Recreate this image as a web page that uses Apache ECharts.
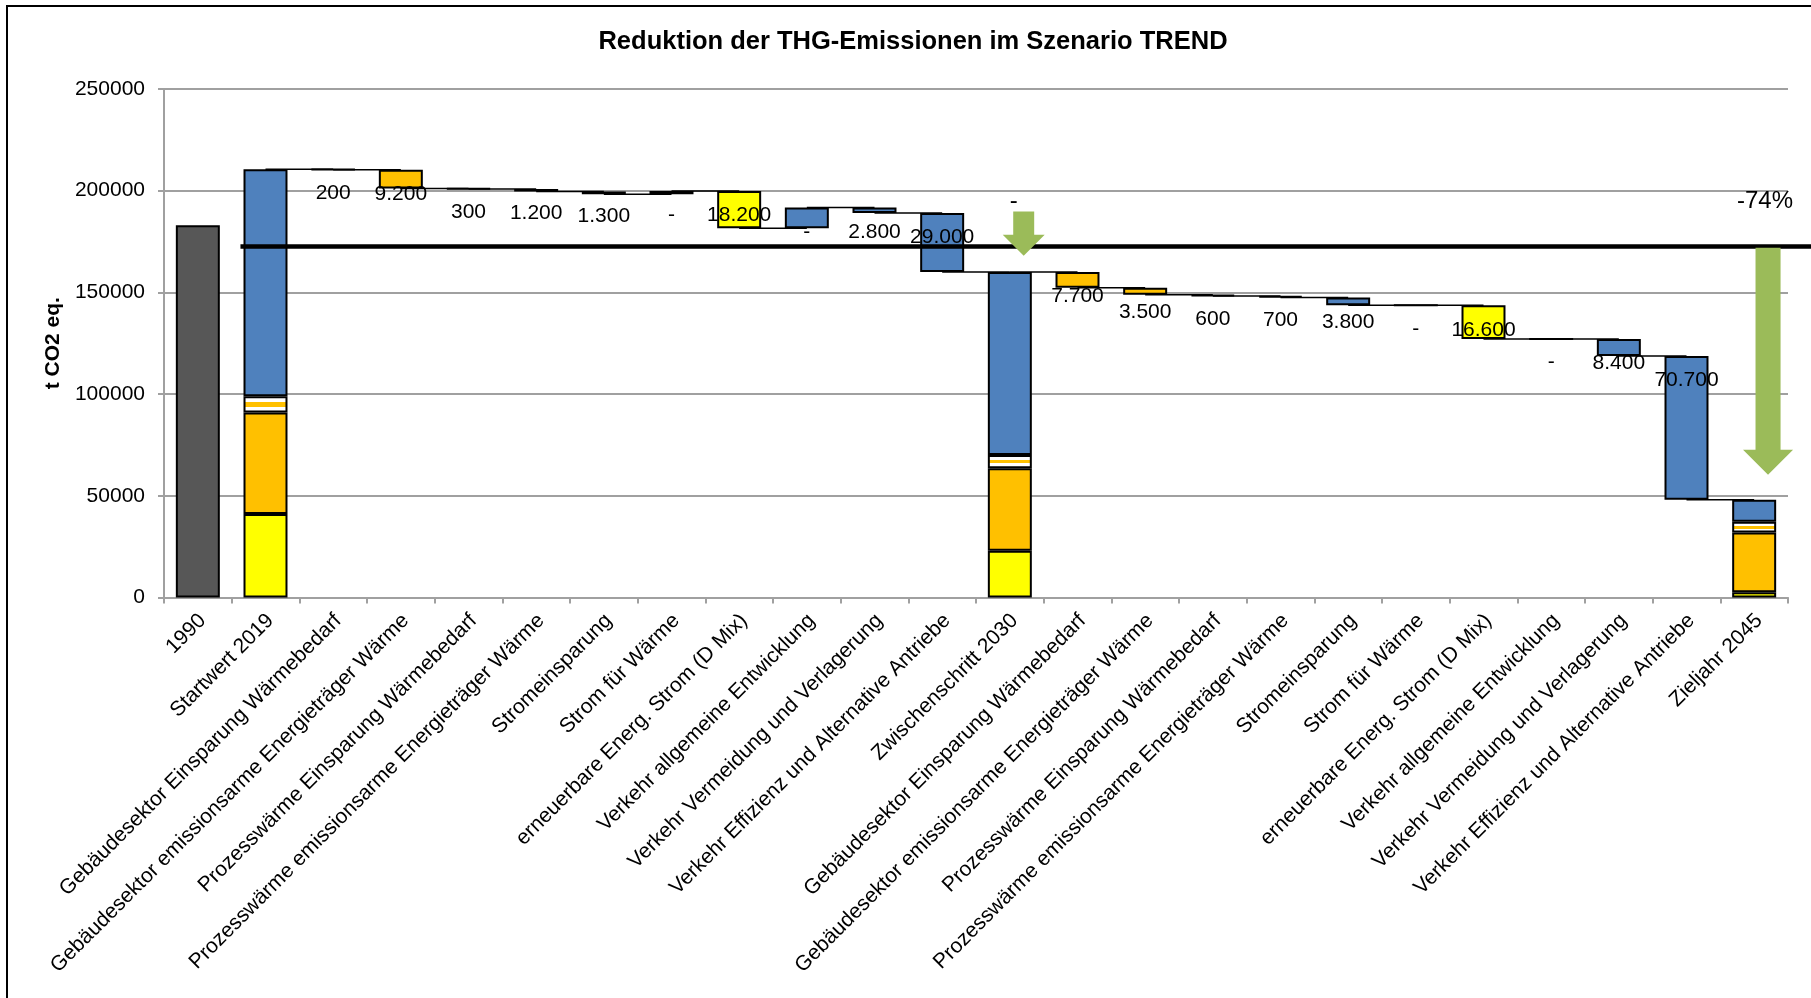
<!DOCTYPE html>
<html>
<head>
<meta charset="utf-8">
<title>Reduktion der THG-Emissionen im Szenario TREND</title>
<script src="https://cdn.jsdelivr.net/npm/echarts@6/dist/echarts.min.js"></script>
<style>
  html, body { margin: 0; padding: 0; background: #fff; }
  #chart { width: 1811px; height: 998px; }
</style>
</head>
<body>
<div id="chart"></div>
<script>
// Maßnahmen, die in beiden Zeitabschnitten (2019–2030, 2030–2045) wirken
const massnahmen = [
  'Gebäudesektor Einsparung Wärmebedarf',
  'Gebäudesektor emissionsarme Energieträger Wärme',
  'Prozesswärme Einsparung Wärmebedarf',
  'Prozesswärme emissionsarme Energieträger Wärme',
  'Stromeinsparung',
  'Strom für Wärme',
  'erneuerbare Energ. Strom (D Mix)',
  'Verkehr allgemeine Entwicklung',
  'Verkehr Vermeidung und Verlagerung',
  'Verkehr Effizienz und Alternative Antriebe'
];
const categories = ['1990', 'Startwert 2019', ...massnahmen, 'Zwischenschritt 2030', ...massnahmen, 'Zieljahr 2045'];

// Sektor, dem jede Maßnahme zugeordnet ist (bestimmt die Balkenfarbe)
const massnahmenSektor = ['gebaeude', 'gebaeude', 'prozess', 'prozess', 'stromeinsparung',
                          'strom', 'strom', 'verkehr', 'verkehr', 'verkehr'];

// Emissionen in t CO2 eq.
const wert1990 = 183000;
// Sektoranteile der Stützjahre: Startwert 2019, Zwischenschritt 2030, Zieljahr 2045
const anteilStrom    = [41000, 23000, 2600];
const anteilGebaeude = [50000, 40600, 29400];
const anteilProzess  = [8000, 6500, 5200];
const anteilVerkehr  = [111500, 89900, 10800];

// Minderung je Maßnahme (negative Werte = Zunahme, beschriftet mit "-")
const minderung2030 = [200, 9200, 300, 1200, 1300, -1500, 18200, -10200, 2800, 29000];
const minderung2045 = [7700, 3500, 600, 700, 3800, 0, 16600, 0, 8400, 70700];

// Achsenteilung
const yTicks = [0, 50000, 100000, 150000, 200000, 250000];

// Horizontale Bezugslinie
const bezugslinie = 172600;
// Pfeile: [Kategorie, von, bis]
const pfeile = [
  ['Zwischenschritt 2030', 189800, 168000],
  ['Zieljahr 2045', 171900, 60300]
];
const prozentNiveau = 194700;

// ---------- Aufbereitung ----------
const FONT = "'Liberation Sans', Arial, Helvetica, sans-serif";
const BLAU = '#4F81BD', ORANGE = '#FFC000', GELB = '#FFFF00', GRAU = '#575757';
const streifen = {
  type: 'linear', x: 0, y: 0, x2: 0, y2: 1,
  colorStops: [
    { offset: 0, color: '#ffffff' }, { offset: 0.36, color: '#ffffff' },
    { offset: 0.36, color: ORANGE }, { offset: 0.64, color: ORANGE },
    { offset: 0.64, color: '#ffffff' }, { offset: 1, color: '#ffffff' }
  ]
};
const sektorFarbe = { strom: GELB, gebaeude: ORANGE, prozess: streifen, verkehr: BLAU, stromeinsparung: BLAU };

const fmtDE = v => (v > 0 ? String(v).replace(/\B(?=(\d{3})+(?!\d))/g, '.') : '-');

const n = categories.length;
const leer = () => new Array(n).fill('-');
const basis = leer(), schritt = leer(), schrittText = new Array(n).fill('');
const sStrom = leer(), sGeb = leer(), sProz = leer(), sVerk = leer(), s1990 = leer();
const niveau = new Array(n).fill(null);
s1990[0] = wert1990;

const stuetzIdx = [1, 12, 23];
stuetzIdx.forEach((idx, k) => {
  sStrom[idx] = anteilStrom[k];
  sGeb[idx] = anteilGebaeude[k];
  sProz[idx] = anteilProzess[k];
  sVerk[idx] = anteilVerkehr[k];
  niveau[idx] = anteilStrom[k] + anteilGebaeude[k] + anteilProzess[k] + anteilVerkehr[k];
});

function abschnitt(startIdx, minderung) {
  let stand = niveau[startIdx - 1];
  minderung.forEach((r, k) => {
    const i = startIdx + k;
    const ende = stand - r;
    basis[i] = Math.min(stand, ende);
    schritt[i] = {
      value: Math.abs(r),
      itemStyle: { color: sektorFarbe[massnahmenSektor[k]] }
    };
    schrittText[i] = fmtDE(r);
    niveau[i] = ende;
    stand = ende;
  });
}
abschnitt(2, minderung2030);
abschnitt(13, minderung2045);

// Verbindungslinien zwischen benachbarten Balken
const verbinder = [];
for (let i = 1; i < n - 1; i++) verbinder.push([i, niveau[i]]);

const zielProzent = Math.round((niveau[23] - wert1990) / wert1990 * 100) + '%';
const pfeilText = ['-', zielProzent];
const pfeilDaten = pfeile.map(p => [categories.indexOf(p[0]), p[1], p[2]]);

const balkenRand = { borderColor: '#000', borderWidth: 2 };
const stapel = (name, data, color) => ({
  name, type: 'bar', stack: 'wf', data, barWidth: '65%', z: 3,
  itemStyle: Object.assign({ color }, balkenRand), silent: true
});

const chart = echarts.init(document.getElementById('chart'), null, { renderer: 'canvas' });
chart.setOption({
  animation: false,
  backgroundColor: '#fff',
  graphic: [
    {
      type: 'rect', silent: true, z: 100,
      shape: { x: 7, y: 6, width: 2400, height: 2400 },
      style: { fill: 'none', stroke: '#000', lineWidth: 2 }
    },
    {
      type: 'text', silent: true, z: 100, x: 913, y: 42,
      style: {
        text: 'Reduktion der THG-Emissionen im Szenario TREND',
        align: 'center', verticalAlign: 'middle',
        fontFamily: FONT, fontSize: 25.5, fontWeight: 'bold', fill: '#000'
      }
    }
  ],
  grid: { left: 164, right: 23, top: 89, bottom: 400.5, containLabel: false },
  xAxis: {
    type: 'category', data: categories,
    axisLine: { lineStyle: { color: '#a0a0a0', width: 2 } },
    axisTick: { show: true, length: 6, lineStyle: { color: '#a0a0a0', width: 2 } },
    axisLabel: {
      interval: 0, rotate: 45, margin: 15, verticalAlign: 'top', lineHeight: 14,
      fontFamily: FONT, fontSize: 21, color: '#000'
    }
  },
  yAxis: {
    type: 'value', min: yTicks[0], max: yTicks[yTicks.length - 1], interval: yTicks[1] - yTicks[0],
    name: 't CO2 eq.', nameLocation: 'middle', nameGap: 85.5,
    nameTextStyle: { fontFamily: FONT, fontSize: 21, fontWeight: 'bold', color: '#000' },
    axisLine: { show: true, lineStyle: { color: '#a0a0a0', width: 2 } },
    axisTick: { show: true, length: 6, lineStyle: { color: '#a0a0a0', width: 2 } },
    axisLabel: { margin: 19, fontFamily: FONT, fontSize: 21, color: '#000', formatter: v => String(v) },
    splitLine: { lineStyle: { color: '#a0a0a0', width: 2 } }
  },
  series: [
    {
      name: 'Basis', type: 'bar', stack: 'wf', data: basis, barWidth: '65%',
      itemStyle: { color: 'rgba(0,0,0,0)' }, silent: true, z: 3
    },
    {
      name: 'Minderung', type: 'bar', stack: 'wf', data: schritt, barWidth: '65%', z: 3,
      itemStyle: Object.assign({}, balkenRand), silent: true,
      label: {
        show: true, position: 'insideTop', distance: 14,
        formatter: p => schrittText[p.dataIndex],
        fontFamily: FONT, fontSize: 21, color: '#000'
      }
    },
    stapel('Strom', sStrom, GELB),
    stapel('Gebäude Wärme', sGeb, ORANGE),
    stapel('Prozesswärme', sProz, streifen),
    stapel('Verkehr', sVerk, BLAU),
    stapel('1990', s1990, GRAU),
    {
      name: 'Verbinder', type: 'custom', data: verbinder, z: 1, silent: true,
      renderItem(params, api) {
        const a = api.coord([api.value(0), api.value(1)]);
        const b = api.coord([api.value(0) + 1, api.value(1)]);
        return {
          type: 'line',
          shape: { x1: a[0], y1: a[1], x2: b[0], y2: b[1] },
          style: { stroke: '#000', lineWidth: 1.5 }
        };
      }
    },
    {
      name: 'Bezugslinie', type: 'custom', data: [[1, bezugslinie]], z: 6, silent: true, clip: false,
      renderItem(params, api) {
        const p = api.coord([api.value(0), api.value(1)]);
        const band = api.size([1, 0])[0];
        return {
          type: 'line',
          shape: { x1: p[0] - band * 0.37, y1: p[1], x2: api.getWidth(), y2: p[1] },
          style: { stroke: '#000', lineWidth: 4.5 }
        };
      }
    },
    {
      name: 'Pfeile', type: 'custom', data: pfeilDaten, z: 8, silent: true, clip: false,
      renderItem(params, api) {
        const band = api.size([1, 0])[0];
        const erster = params.dataIndex === 0;
        const kopf = erster ? band * 0.31 : band * 0.37;
        const top = api.coord([api.value(0), api.value(1)]);
        const tip = api.coord([api.value(0), api.value(2)]);
        const cx = top[0] + band * 0.205;
        const schaft = kopf / 2;
        const kopfY = tip[1] - kopf;
        const lbl = api.coord([api.value(0), prozentNiveau]);
        return {
          type: 'group',
          children: [
            {
              type: 'polygon',
              shape: {
                points: [
                  [cx - schaft, top[1]], [cx + schaft, top[1]], [cx + schaft, kopfY],
                  [cx + kopf, kopfY], [cx, tip[1]], [cx - kopf, kopfY], [cx - schaft, kopfY]
                ]
              },
              style: { fill: '#9BBB59' }
            },
            {
              type: 'text',
              style: {
                x: cx - (erster ? 10 : 3), y: lbl[1], text: pfeilText[params.dataIndex],
                align: 'center', verticalAlign: 'middle',
                fontFamily: FONT, fontSize: 24, fill: '#000'
              }
            }
          ]
        };
      }
    }
  ]
});
</script>
</body>
</html>
